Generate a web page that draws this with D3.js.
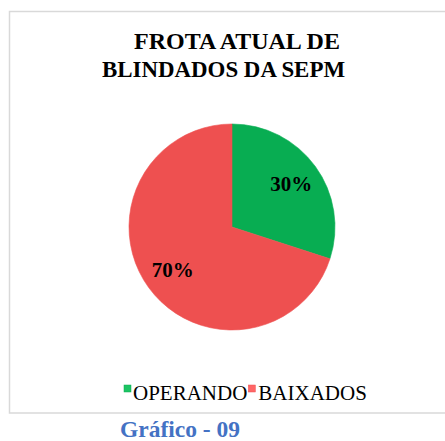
<!DOCTYPE html>
<html>
<head>
<meta charset="utf-8">
<script src="https://cdn.jsdelivr.net/npm/d3@7"></script>
<style>
  body { margin: 0; background: #fff; }
  svg { display: block; }
</style>
</head>
<body>
<div id="chart"></div>
<script>
const categories = ['OPERANDO', 'BAIXADOS'];
const values = [30, 70];
const titleLines = ['FROTA ATUAL DE', 'BLINDADOS DA SEPM'];
const caption = 'Gráfico - 09';

const width = 445, height = 441;
const cx = 232, cy = 227, radius = 103;

const colors = d3.scaleOrdinal()
    .domain(categories)
    .range(['#1cc463', '#ff6666']);
const darkColors = ['#08ad52', '#ee5050'];

const svg = d3.select('#chart').append('svg')
    .attr('width', width)
    .attr('height', height);

const defs = svg.append('defs');
categories.forEach((c, i) => {
    let g = defs.append('radialGradient')
        .attr('id', 'grad' + i)
        .attr('gradientUnits', 'userSpaceOnUse')
        .attr('cx', cx).attr('cy', cy).attr('r', radius)
        .attr('fx', cx).attr('fy', cy);
    g.append('stop').attr('offset', '0%').attr('stop-color', colors(c));
    g.append('stop').attr('offset', '90%').attr('stop-color', colors(c));
    g.append('stop').attr('offset', '100%').attr('stop-color', darkColors[i]);
});

// frame
svg.append('rect')
    .attr('x', 9.5).attr('y', 11.5)
    .attr('width', 460).attr('height', 401.5)
    .attr('fill', 'none')
    .attr('stroke', '#d9d9d9')
    .attr('stroke-width', 1.5);

// title
svg.append('text')
    .attr('x', 237).attr('y', 49)
    .attr('text-anchor', 'middle')
    .style('font-family', '"Liberation Serif", "Times New Roman", serif')
    .style('font-weight', 'bold')
    .style('font-size', '24px')
    .text(titleLines[0]);
svg.append('text')
    .attr('x', 102).attr('y', 77)
    .attr('textLength', 243)
    .attr('lengthAdjust', 'spacingAndGlyphs')
    .style('font-family', '"Liberation Serif", "Times New Roman", serif')
    .style('font-weight', 'bold')
    .style('font-size', '24px')
    .text(titleLines[1]);

// pie
const pie = d3.pie().sort(null).value(d => d.value);
const data = pie(categories.map((c, i) => ({ name: c, value: values[i] })));

const arc = d3.arc().innerRadius(0).outerRadius(radius);
const labelArc = d3.arc().innerRadius(radius * 0.71).outerRadius(radius * 0.71);

const g = svg.append('g')
    .attr('transform', 'translate(' + cx + ',' + cy + ')');

g.selectAll('path.slice')
    .data(data)
    .enter().append('path')
    .attr('class', 'slice')
    .attr('d', arc)
    .attr('fill', (d, i) => 'url(#grad' + i + ')')
    .attr('stroke', (d, i) => darkColors[i])
    .attr('stroke-width', 0.6);

g.selectAll('text.lbl')
    .data(data)
    .enter().append('text')
    .attr('class', 'lbl')
    .attr('transform', d => 'translate(' + labelArc.centroid(d) + ')')
    .attr('text-anchor', 'middle')
    .attr('dy', '0.35em')
    .style('font-family', '"Liberation Serif", "Times New Roman", serif')
    .style('font-weight', 'bold')
    .style('font-size', '21px')
    .text(d => d.data.value + '%');

// legend
const legend = svg.append('text')
    .attr('x', 133).attr('y', 400)
    .style('font-family', '"Liberation Serif", "Times New Roman", serif')
    .style('font-size', '21px');
legend.append('tspan').text(categories[0]);
legend.append('tspan').attr('dx', 11).text(categories[1]);

const legendNode = legend.node();
const firstWidth = legendNode.getSubStringLength(0, categories[0].length);
const sqX = [124, 133 + firstWidth + 1];
categories.forEach((c, i) => {
    svg.append('rect')
        .attr('x', sqX[i]).attr('y', 385)
        .attr('width', 7).attr('height', 7)
        .attr('fill', colors(c))
        .attr('stroke', darkColors[i])
        .attr('stroke-width', 0.5);
});

// caption
svg.append('text')
    .attr('x', 120).attr('y', 437)
    .style('font-family', '"Liberation Serif", "Times New Roman", serif')
    .style('font-weight', 'bold')
    .style('font-size', '23.5px')
    .style('fill', '#4472c4')
    .text(caption);
</script>
</body>
</html>
